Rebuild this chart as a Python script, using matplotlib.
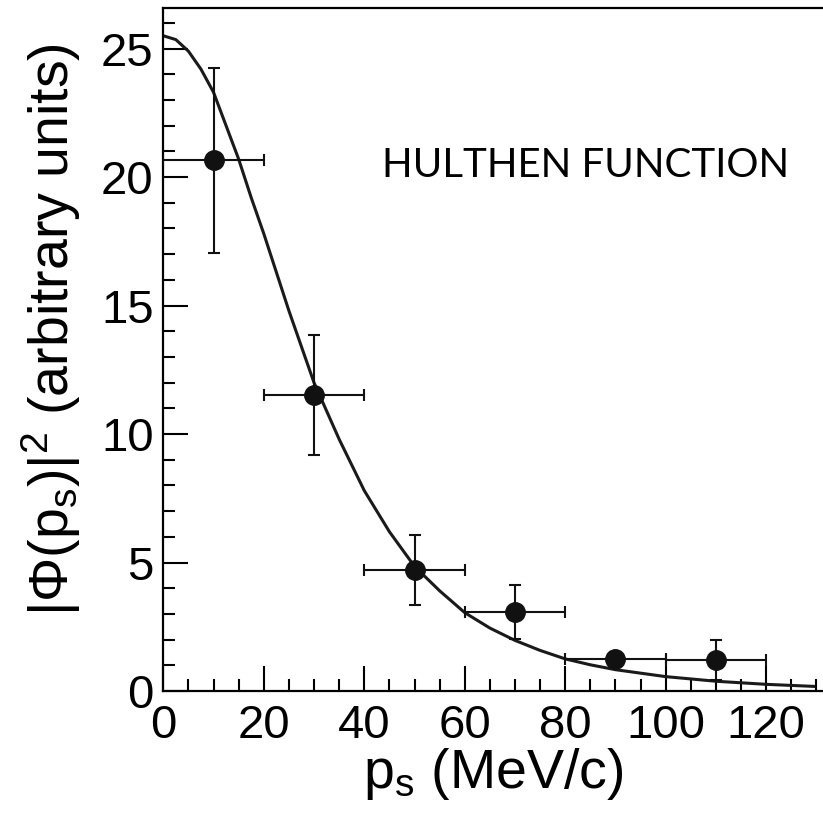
import matplotlib
matplotlib.use("Agg")
import matplotlib.pyplot as plt
from matplotlib.ticker import MultipleLocator

# measured points
p_s = [10, 30, 50, 70, 90, 110]
phi2 = [20.66, 11.52, 4.71, 3.09, 1.25, 1.2]
phi2_err = [3.6, 2.33, 1.35, 1.05, 0.25, 0.77]
p_err = [10, 10, 10, 10, 10, 10]

# Hulthen curve
curve_p = [0, 2.5, 5, 7.5, 10, 12.5, 15, 17.5, 20, 25, 30, 35, 40, 45, 50,
           55, 60, 65, 70, 75, 80, 85, 90, 100, 110, 120, 129.5]
curve_phi2 = [25.5, 25.35, 24.9, 24.2, 23.3, 22.0, 20.7, 19.2, 17.8, 14.8, 12.0,
              9.8, 7.8, 6.2, 4.85, 3.9, 3.05, 2.45, 1.97, 1.58, 1.25, 1.02, 0.83,
              0.56, 0.38, 0.26, 0.18]

plt.rcParams["font.family"] = ["Liberation Sans", "DejaVu Sans"]
plt.rcParams["mathtext.fontset"] = "custom"
plt.rcParams["mathtext.rm"] = "Liberation Sans"
plt.rcParams["mathtext.it"] = "Liberation Sans"

fig = plt.figure(figsize=(8.23, 8.17), dpi=100)
ax = fig.add_axes([0.1984, 0.1542, 0.8016, 0.836])

ax.plot(curve_p, curve_phi2, color="#1a1a1a", lw=2.2, zorder=2)
ax.errorbar(p_s, phi2, xerr=p_err, yerr=phi2_err, fmt="o", color="#111111",
            ms=14, elinewidth=1.5, capsize=4, capthick=1.5, zorder=3)

ax.text(43.6, 20.0, "HULTHEN FUNCTION", family=["Lato", "DejaVu Sans"],
        fontsize=29, ha="left", va="baseline")

ax.set_xlim(0, 131.3)
ax.set_ylim(0, 26.58)
ax.xaxis.set_major_locator(MultipleLocator(20))
ax.xaxis.set_minor_locator(MultipleLocator(5))
ax.yaxis.set_major_locator(MultipleLocator(5))
ax.yaxis.set_minor_locator(MultipleLocator(1))
ax.tick_params(which="both", direction="in", width=1.5, labelsize=34)
ax.tick_params(axis="x", pad=9)
ax.tick_params(axis="y", pad=7)
ax.tick_params(which="major", length=18)
ax.tick_params(which="minor", length=8.6)
for side in ["left", "bottom", "top"]:
    ax.spines[side].set_linewidth(1.6)
ax.spines["right"].set_visible(False)

ax.set_xlabel(r"$\mathrm{p_s}$ (MeV/c)", fontsize=40)
ax.set_ylabel(r"$\mathrm{|\Phi(p_s)|^2}$ (arbitrary units)", fontsize=40)
ax.xaxis.set_label_coords(0.5, -0.08)
ax.yaxis.set_label_coords(-0.122, 0.53)

fig.savefig("out.png", dpi=100)
